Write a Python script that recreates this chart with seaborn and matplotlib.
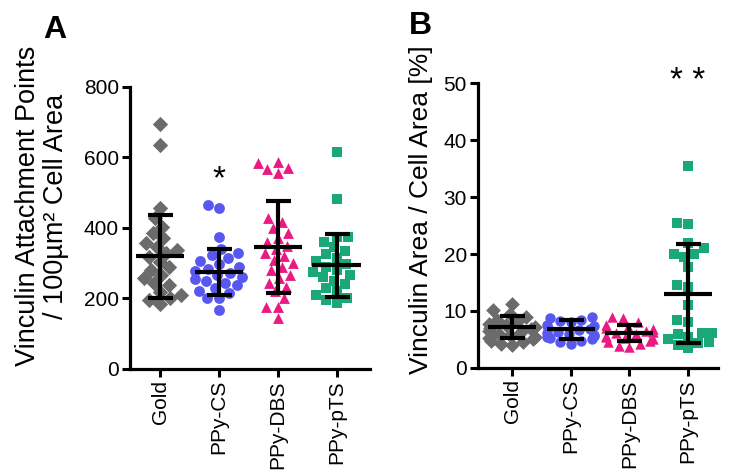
import pandas as pd
import numpy as np
import matplotlib
matplotlib.use("Agg")
import matplotlib.pyplot as plt
import seaborn as sns

# ==================================
# DATA
# ==================================

groups = ["Gold", "PPy-CS", "PPy-DBS", "PPy-pTS"]

# panel A: vinculin attachment points / 100 um^2 cell area
gold_a = [695, 635, 457, 428, 403, 386, 372, 357, 346, 338, 329, 318, 304,
          289, 281, 267, 258, 244, 238, 218, 210, 201, 196, 185]
cs_a = [465, 457, 375, 340, 330, 322, 315, 305, 298, 290, 284, 278, 272,
        266, 260, 255, 250, 244, 238, 230, 222, 215, 201, 201, 167]
dbs_a = [587, 584, 570, 567, 556, 428, 417, 400, 386, 372, 360, 350, 340,
         330, 320, 310, 300, 290, 280, 268, 258, 245, 232, 220, 201, 176,
         176, 145]
pts_a = [615, 482, 375, 375, 360, 345, 335, 325, 315, 305, 298, 290, 282,
         275, 268, 260, 250, 240, 230, 220, 210, 200, 195, 187]
mean_a = [320, 276, 346, 294]
sd_a = [118, 65, 131, 90]

# panel B: vinculin area / cell area [%]
gold_b = [11.3, 10.2, 9.5, 9.0, 8.5, 8.0, 7.8, 7.5, 7.2, 7.0, 6.8, 6.5,
          6.3, 6.0, 5.8, 5.5, 5.2, 5.0, 4.8, 4.5, 4.2, 4.0]
cs_b = [9.0, 8.8, 8.5, 8.2, 8.0, 7.6, 7.3, 7.0, 6.8, 6.6, 6.4, 6.2, 6.0,
        5.8, 5.6, 5.4, 5.2, 5.0, 4.8, 4.5, 4.2]
dbs_b = [9.0, 8.8, 8.0, 7.5, 7.2, 7.0, 6.8, 6.5, 6.3, 6.1, 5.9, 5.7, 5.5,
         5.3, 5.0, 4.8, 4.5, 4.2, 3.9, 3.6]
pts_b = [35.5, 25.5, 25.3, 22.0, 21.0, 20.0, 20.0, 19.4, 17.7, 14.5, 14.2,
         11.0, 8.4, 8.0, 6.1, 6.1, 6.0, 5.5, 5.0, 4.5, 4.4, 4.0, 3.5]
mean_b = [7.2, 6.8, 6.2, 13.0]
sd_b = [1.9, 1.7, 1.4, 8.7]

markers = ["D", "o", "^", "s"]
colors = ["#6b6b6b", "#5858f0", "#ea1a82", "#1aa878"]

# ==================================
# STYLE
# ==================================

sns.set_style("ticks", {"axes.edgecolor": "black", "text.color": "black",
                        "xtick.color": "black", "ytick.color": "black"})
plt.rcParams["font.family"] = ["Liberation Sans", "DejaVu Sans"]
plt.rcParams["axes.linewidth"] = 2.3

fig = plt.figure(figsize=(7.48, 4.73), dpi=100)
axA = fig.add_axes([0.1738, 0.2199, 0.3209, 0.5962])
axB = fig.add_axes([0.6390, 0.2220, 0.3209, 0.6025])


def draw_panel(ax, series, means, sds, size):
    for g, vals, m, c in zip(groups, series, markers, colors):
        sub = pd.DataFrame({"group": g, "value": vals})
        sns.swarmplot(data=sub, x="group", y="value", order=groups,
                      marker=m, color=c, size=size, linewidth=0,
                      ax=ax, zorder=2, warn_thresh=1)
    pos = np.arange(len(groups))
    ax.errorbar(pos, means, yerr=sds, fmt="none", ecolor="black",
                elinewidth=3, capsize=9, capthick=3, zorder=5)
    ax.hlines(means, pos - 0.41, pos + 0.41, color="black", lw=3, zorder=5)
    ax.set_xlabel("")
    ax.set_ylabel("")
    sns.despine(ax=ax)
    ax.tick_params(axis="both", length=6, width=2.2, labelsize=15, pad=2,
                   colors="black")
    ax.tick_params(axis="x", rotation=90)


draw_panel(axA, [gold_a, cs_a, dbs_a, pts_a], mean_a, sd_a, 7.8)
axA.set_ylim(0, 800)
axA.set_yticks([0, 200, 400, 600, 800])
axA.set_xlim(-0.51, 3.57)
axA.text(1, 536, "*", ha="center", va="center", fontsize=24)

draw_panel(axB, [gold_b, cs_b, dbs_b, pts_b], mean_b, sd_b, 7.5)
axB.set_ylim(0, 50)
axB.set_yticks([0, 10, 20, 30, 40, 50])
axB.set_xlim(-0.58, 3.51)
axB.text(3, 50.3, "* *", ha="center", va="center", fontsize=24, clip_on=False)

# labels
fig.text(42 / 748, 1 - 206 / 473,
         "Vinculin Attachment Points\n/ 100µm² Cell Area",
         rotation=90, ha="center", va="center", multialignment="center",
         fontsize=19.5, linespacing=1.1)
fig.text(421 / 748, 1 - 210 / 473, "Vinculin Area / Cell Area [%]",
         rotation=90, ha="center", va="center", fontsize=19)
fig.text(55 / 748, 1 - 30 / 473, "A", ha="center", va="center",
         fontsize=23, fontweight="bold")
fig.text(420 / 748, 1 - 26 / 473, "B", ha="center", va="center",
         fontsize=23, fontweight="bold")

fig.savefig("out.png", dpi=100)
